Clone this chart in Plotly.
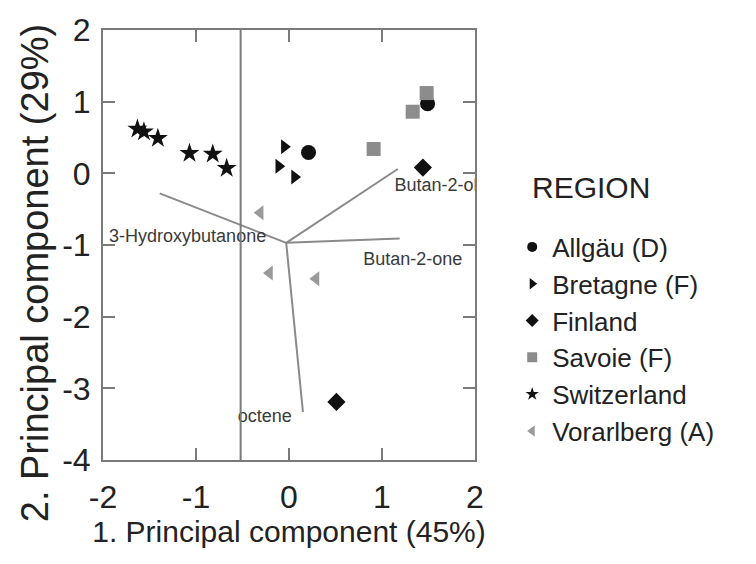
import plotly.graph_objects as go

# PCA scores per region (PC1, PC2)
allgau_x = [0.21, 1.49]
allgau_y = [0.29, 0.97]
bretagne_x = [-0.05, -0.11, 0.06]
bretagne_y = [0.37, 0.10, -0.05]
finland_x = [1.44, 0.51]
finland_y = [0.08, -3.19]
savoie_x = [0.91, 1.33, 1.48]
savoie_y = [0.34, 0.86, 1.12]
switzerland_x = [-1.63, -1.56, -1.41, -1.07, -0.82, -0.67]
switzerland_y = [0.62, 0.58, 0.49, 0.28, 0.27, 0.07]
vorarlberg_x = [-0.31, -0.21, 0.29]
vorarlberg_y = [-0.55, -1.39, -1.47]

# Loading vectors of the volatile compounds
loading_names = ["3-Hydroxybutanone", "Butan-2-ol", "Butan-2-one", "octene"]
loading_origin = (-0.03, -0.97)
loading_x = [-1.39, 1.17, 1.19, 0.15]
loading_y = [-0.28, 0.06, -0.91, -3.33]
label_x = [-1.09, 1.58, 1.33, -0.26]
label_y = [-0.90, -0.18, -1.21, -3.41]

ref_line_x = -0.52

# axis ticks
x_ticks = [-2, -1, 0, 1, 2]
x_tick_text = ["-2", "-1", "0", "1", "2"]
y_ticks = [-4, -3, -2, -1, 0, 1, 2]
y_tick_text = ["-4", "-3", "-2", "-1", "0", "1", "2"]

FONT = "Liberation Sans, Arial, Helvetica, sans-serif"
BLACK = "#111111"
GREY = "#8c8c8c"
AXIS = "#7a7a7a"
TEXT = "#222222"

fig = go.Figure()

# loading lines
lx, ly = [], []
for x, y in zip(loading_x, loading_y):
    lx += [loading_origin[0], x, None]
    ly += [loading_origin[1], y, None]
fig.add_trace(go.Scatter(x=lx, y=ly, mode="lines", line=dict(color="#8a8a8a", width=2),
                         showlegend=False, hoverinfo="skip"))
fig.add_trace(go.Scatter(x=label_x, y=label_y, mode="text", text=loading_names,
                         textfont=dict(family=FONT, size=18, color="#3a3a3a"),
                         showlegend=False, hoverinfo="skip", cliponaxis=True))

groups = [
    ("Allgäu (D)", allgau_x, allgau_y, "circle", BLACK, 15),
    ("Bretagne (F)", bretagne_x, bretagne_y, "triangle-right", BLACK, 13),
    ("Finland", finland_x, finland_y, "diamond", BLACK, 14),
    ("Savoie (F)", savoie_x, savoie_y, "square", GREY, 14),
    ("Switzerland", switzerland_x, switzerland_y, "star", BLACK, 15),
    ("Vorarlberg (A)", vorarlberg_x, vorarlberg_y, "triangle-left", "#9a9a9a", 13),
]
for name, xs, ys, sym, col, size in groups:
    fig.add_trace(go.Scatter(x=xs, y=ys, mode="markers", name=name, legendgroup=name,
                             marker=dict(symbol=sym, color=col, size=size, line=dict(width=0)),
                             showlegend=False))
    # smaller symbol for the legend key
    fig.add_trace(go.Scatter(x=[None], y=[None], mode="markers", name=name, legendgroup=name,
                             marker=dict(symbol=sym, color=col, size=10, line=dict(width=0)),
                             showlegend=True))

fig.add_shape(type="line", x0=ref_line_x, x1=ref_line_x, xref="x", y0=0, y1=1, yref="paper",
              line=dict(color=AXIS, width=2))

axis_common = dict(
    showline=True, linecolor=AXIS, linewidth=2, mirror="allticks",
    ticks="inside", ticklen=12, tickwidth=1.5, tickcolor=AXIS,
    showgrid=False, zeroline=False,
    tickfont=dict(family=FONT, size=32, color=TEXT),
)

fig.update_layout(
    width=756, height=564,
    margin=dict(l=103, r=281, t=19, b=104),
    paper_bgcolor="white", plot_bgcolor="white",
    xaxis=dict(range=[-2, 2], tickmode="array", tickvals=x_ticks, ticktext=x_tick_text,
               ticklabelstandoff=8,
               title=dict(text="1. Principal component (45%)", standoff=2,
                          font=dict(family=FONT, size=30, color=TEXT)),
               **axis_common),
    yaxis=dict(range=[-4, 2], tickmode="array", tickvals=y_ticks, ticktext=y_tick_text,
               ticklabelstandoff=4, **axis_common),
    legend=dict(x=1.1, xanchor="left", y=0.55, yanchor="top",
                font=dict(family=FONT, size=26, color=TEXT),
                bgcolor="rgba(0,0,0,0)", tracegroupgap=0),
    annotations=[
        dict(text="REGION", xref="paper", yref="paper", x=1.148, y=0.634,
             xanchor="left", yanchor="middle", showarrow=False,
             font=dict(family=FONT, size=30, color=TEXT)),
        dict(text="2. Principal component (29%)", textangle=-90,
             xref="paper", yref="paper", x=-0.182, y=0.435,
             xanchor="center", yanchor="middle", showarrow=False,
             font=dict(family=FONT, size=38, color=TEXT)),
    ],
)

fig.write_html("out.html")
